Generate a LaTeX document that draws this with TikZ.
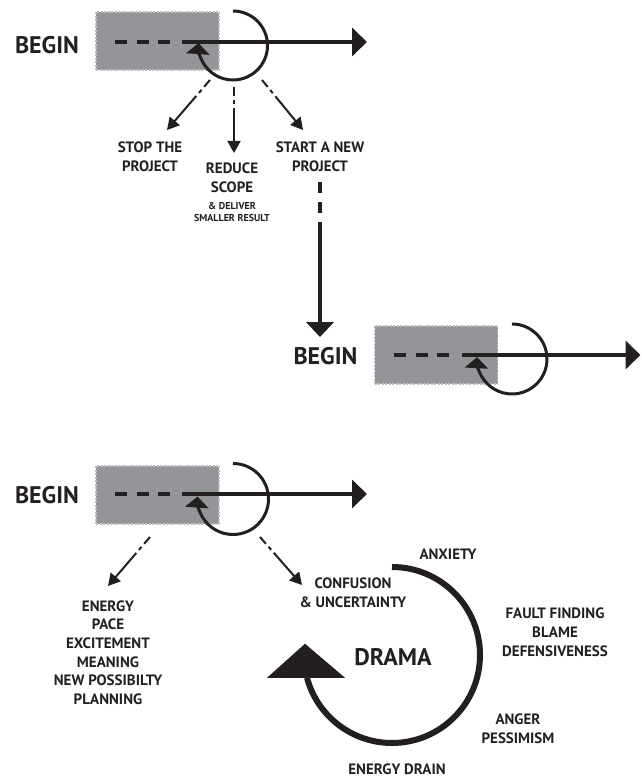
\documentclass[tikz,border=0pt]{standalone}
\usepackage{fontspec}
\setmainfont{PT Sans}
\usetikzlibrary{positioning,arrows.meta,calc}
\definecolor{ink}{HTML}{231F20}
\definecolor{boxgray}{HTML}{939598}
\definecolor{boxedge}{HTML}{BCBEC0}

\begin{document}
\begin{tikzpicture}[
    x=1pt,y=1pt,
    GBox/.style={
        rectangle,
        fill=boxgray,
        draw=boxedge,
        line width=1.2pt,
        dash pattern=on 2pt off 1.5pt,
        minimum width=123pt,
        minimum height=58pt
    },
    Lbl/.style={
        text=ink,
        font=\bfseries\fontsize{15}{19}\selectfont,
        align=center,
        inner sep=0pt
    },
    Big/.style={
        text=ink,
        font=\bfseries\fontsize{24}{28}\selectfont,
        inner sep=0pt
    },
    Small/.style={
        text=ink,
        font=\bfseries\fontsize{10}{12}\selectfont,
        align=center,
        inner sep=0pt
    },
    Dash/.style={ink, line width=4.5pt, dash pattern=on 12pt off 9.5pt},
    Flow/.style={ink, line width=4pt, -{Triangle[length=15pt,width=28pt]}},
    Loop/.style={ink, line width=3pt, -{Triangle[length=11pt,width=23pt]}},
    Exit/.style={ink, line width=2pt,
        dash pattern=on 9pt off 4pt on 4pt off 4pt on 300pt off 0pt,
        -{Triangle[length=12pt,width=13pt]}},
    Drop/.style={ink, line width=4pt,
        dash pattern=on 11pt off 9pt on 11pt off 9pt on 300pt off 0pt,
        -{Triangle[length=15pt,width=27pt]}}
    ]
    \useasboundingbox (0,0) rectangle (641,777);

    % first start
    \node[GBox] (box1) at (157.5,736) {};
    \node[Big] (begin1) at (47,732) {BEGIN};
    \coordinate (dash1) at (115,735);
    \coordinate (go1) at (182,735);
    \coordinate (end1) at (367,735);
    \draw[Dash] (dash1) -- ++(55,0);
    \draw[Flow] (go1) -- (end1);
    \draw[Loop] (233,731.5) ++(90:34.5) arc[start angle=90,end angle=-184,radius=34.5];

    \node[Lbl] (stop) at (150,620) {STOP THE\\PROJECT};
    \node[Lbl] (reduce) at (232,599.5) {REDUCE\\SCOPE};
    \node[Small] (deliver) [below=9.5pt of reduce] {\& DELIVER\\SMALLER RESULT};
    \node[Lbl] (startnew) at (320,620) {START A NEW\\PROJECT};

    \coordinate (out1a) at (210,697);
    \coordinate (out1b) at (234,690);
    \coordinate (out1c) at (262,697);
    \coordinate (in1a) at (167,647);
    \coordinate (in1b) at (234,624);
    \coordinate (in1c) at (303,647);
    \draw[Exit] (out1a) -- (in1a);
    \draw[Exit] (out1b) -- (in1b);
    \draw[Exit] (out1c) -- (in1c);

    % second start
    \node[GBox] (box2) at (436,422) {};
    \node[Big] (begin2) at (325.5,421) {BEGIN};
    \coordinate (dash2) at (394,422);
    \coordinate (go2) at (462,422);
    \coordinate (end2) at (640.5,422);
    \draw[Dash] (dash2) -- ++(55,0);
    \draw[Flow] (go2) -- (end2);
    \draw[Loop] (512,418) ++(90:35) arc[start angle=90,end angle=-183,radius=35];

    \draw[Drop] ([yshift=-10pt]startnew.south) -- ([yshift=10pt]startnew.south |- begin2.north);

    % third start
    \node[GBox] (box3) at (157.5,282) {};
    \node[Big] (begin3) at (47,282) {BEGIN};
    \coordinate (dash3) at (115,283);
    \coordinate (go3) at (182,283);
    \coordinate (end3) at (367,283);
    \draw[Dash] (dash3) -- ++(55,0);
    \draw[Flow] (go3) -- (end3);
    \draw[Loop] (233,278) ++(90:35.5) arc[start angle=90,end angle=-184,radius=35.5];

    \node[Lbl,font=\bfseries\fontsize{15}{18.6}\selectfont] (moods) at (108,124.5)
        {ENERGY\\PACE\\EXCITEMENT\\MEANING\\NEW POSSIBILTY\\PLANNING};
    \node[Lbl] (confusion) at (353,184) {CONFUSION\\\& UNCERTAINTY};

    \coordinate (out3a) at (150,240);
    \coordinate (out3b) at (260,240);
    \coordinate (in3a) at (108,191);
    \coordinate (in3b) at (302,192);
    \draw[Exit] (out3a) -- (in3a);
    \draw[Exit] (out3b) -- (in3b);

    % drama cycle
    \node[Big] (drama) at (393,120) {DRAMA};
    \node[Lbl] (anxiety) at (448,223) {ANXIETY};
    \node[Lbl] (fault) at (555,144.5) {FAULT FINDING\\BLAME\\DEFENSIVENESS};
    \node[Lbl] (anger) at (518,48.5) {ANGER\\PESSIMISM};
    \node[Lbl] (drain) at (397,8) {ENERGY DRAIN};
    \draw[ink, line width=6pt] (392,122) ++(90:88)
        arc[start angle=90,end angle=-165,radius=88] coordinate (cycleEnd);
    \fill[ink] ($(cycleEnd)+(-40,0)$) -- ($(cycleEnd)+(38,0)$) -- ($(cycleEnd)+(-2,34)$) -- cycle;
\end{tikzpicture}
\end{document}
